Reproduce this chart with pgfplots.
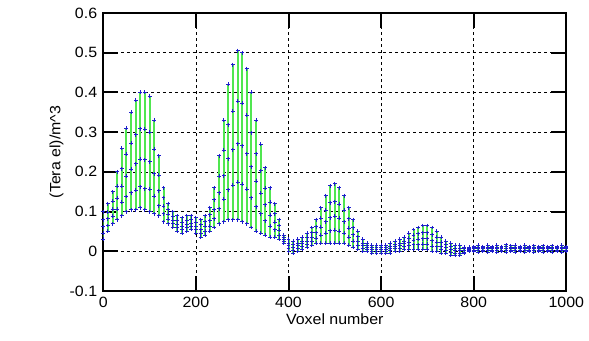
\documentclass[border=0pt]{standalone}
\usepackage{fontspec}
\setmainfont{Liberation Sans}[FakeStretch=1.07]
\usepackage{pgfplots}
\usepackage{pgfplotstable}
\pgfplotsset{compat=1.18}
\definecolor{lgreen}{RGB}{80,230,80}
\definecolor{mblue}{RGB}{30,30,205}
\pgfplotstableread{
x y1 y2 y3 y4 y5
0 0.100 0.079 0.062 0.045 0.030
10 0.120 0.099 0.082 0.065 0.050
20 0.150 0.126 0.106 0.088 0.070
30 0.200 0.164 0.134 0.106 0.080
40 0.260 0.208 0.164 0.124 0.090
50 0.310 0.244 0.189 0.138 0.100
60 0.350 0.272 0.207 0.147 0.105
70 0.380 0.293 0.220 0.154 0.105
80 0.400 0.309 0.232 0.162 0.110
90 0.400 0.307 0.230 0.158 0.105
100 0.390 0.300 0.225 0.156 0.100
110 0.330 0.257 0.195 0.139 0.095
120 0.240 0.192 0.152 0.115 0.090
130 0.160 0.135 0.113 0.094 0.075
140 0.120 0.105 0.093 0.081 0.070
150 0.100 0.088 0.078 0.069 0.060
160 0.090 0.078 0.068 0.059 0.050
170 0.085 0.073 0.063 0.054 0.045
180 0.090 0.078 0.068 0.059 0.050
190 0.090 0.080 0.071 0.063 0.055
200 0.085 0.073 0.063 0.054 0.045
210 0.080 0.067 0.055 0.045 0.035
220 0.090 0.075 0.063 0.051 0.040
230 0.110 0.092 0.077 0.063 0.050
240 0.160 0.130 0.105 0.082 0.060
250 0.240 0.189 0.147 0.107 0.070
260 0.330 0.254 0.190 0.131 0.075
270 0.420 0.318 0.233 0.155 0.080
280 0.470 0.353 0.256 0.166 0.080
290 0.505 0.378 0.271 0.174 0.080
300 0.500 0.373 0.266 0.169 0.075
310 0.460 0.343 0.246 0.156 0.070
320 0.400 0.298 0.213 0.135 0.060
330 0.330 0.246 0.176 0.112 0.050
340 0.270 0.203 0.146 0.095 0.045
350 0.210 0.159 0.117 0.077 0.040
360 0.160 0.123 0.091 0.063 0.035
370 0.120 0.095 0.073 0.054 0.035
380 0.080 0.065 0.053 0.041 0.030
390 0.040 0.034 0.029 0.024 0.020
400 0.030 0.021 0.014 0.007 0.000
410 0.025 0.016 0.009 0.002 -0.005
420 0.030 0.021 0.014 0.007 0.000
430 0.035 0.026 0.019 0.012 0.005
440 0.045 0.035 0.026 0.018 0.010
450 0.060 0.047 0.035 0.025 0.015
460 0.080 0.062 0.047 0.033 0.020
470 0.110 0.083 0.061 0.040 0.020
480 0.140 0.104 0.074 0.046 0.020
490 0.165 0.122 0.085 0.052 0.020
500 0.170 0.125 0.088 0.053 0.020
510 0.160 0.118 0.083 0.051 0.020
520 0.140 0.104 0.074 0.046 0.020
530 0.110 0.082 0.058 0.036 0.015
540 0.080 0.059 0.042 0.025 0.010
550 0.050 0.037 0.025 0.015 0.005
560 0.030 0.021 0.014 0.007 0.000
570 0.020 0.014 0.009 0.004 0.000
580 0.015 0.009 0.004 -0.001 -0.005
590 0.015 0.009 0.004 -0.001 -0.005
600 0.015 0.009 0.004 -0.001 -0.005
610 0.015 0.009 0.004 -0.001 -0.005
620 0.020 0.013 0.006 0.001 -0.005
630 0.025 0.018 0.011 0.006 0.000
640 0.030 0.021 0.014 0.007 0.000
650 0.035 0.026 0.019 0.012 0.005
660 0.045 0.033 0.023 0.014 0.005
670 0.055 0.040 0.028 0.016 0.005
680 0.060 0.044 0.030 0.017 0.005
690 0.065 0.047 0.032 0.018 0.005
700 0.065 0.047 0.032 0.018 0.005
710 0.060 0.042 0.027 0.013 0.000
720 0.050 0.035 0.023 0.011 0.000
730 0.035 0.023 0.013 0.004 -0.005
740 0.025 0.016 0.009 0.002 -0.005
750 0.020 0.011 0.004 -0.003 -0.010
760 0.015 0.008 0.001 -0.005 -0.010
770 0.015 0.008 0.001 -0.005 -0.010
780 0.010 0.006 0.002 -0.002 -0.005
790 0.010 0.007 0.005 0.002 0.000
800 0.012 0.009 0.006 0.003 0.000
810 0.015 0.010 0.006 0.002 -0.002
820 0.012 0.009 0.006 0.003 0.000
830 0.015 0.010 0.006 0.002 -0.002
840 0.012 0.009 0.006 0.003 0.000
850 0.015 0.010 0.006 0.002 -0.002
860 0.012 0.009 0.006 0.003 0.000
870 0.016 0.011 0.007 0.003 -0.002
880 0.014 0.010 0.006 0.003 0.000
890 0.015 0.010 0.006 0.002 -0.002
900 0.012 0.009 0.006 0.003 0.000
910 0.015 0.010 0.006 0.002 -0.002
920 0.012 0.009 0.006 0.003 0.000
930 0.014 0.010 0.006 0.002 -0.002
940 0.012 0.009 0.006 0.003 0.000
950 0.014 0.010 0.006 0.002 -0.002
960 0.012 0.009 0.006 0.003 0.000
970 0.014 0.010 0.006 0.002 -0.002
980 0.012 0.009 0.006 0.003 0.000
990 0.015 0.010 0.006 0.002 -0.002
1000 0.012 0.009 0.006 0.003 0.000
}\vox
\begin{document}
\fontsize{15bp}{18bp}\selectfont
\begin{tikzpicture}
\begin{axis}[
  name=ax,
  scale only axis,
  width=466bp, height=280bp,
  xmin=0, xmax=1000, ymin=-0.1, ymax=0.6,
  xtick={0,200,...,1000},
  ytick={-0.1,0,0.1,0.2,0.3,0.4,0.5,0.6},
  yticklabels={-0.1,0,0.1,0.2,0.3,0.4,0.5,0.6},
  xticklabels={0,200,400,600,800,1000},
  axis line style={line width=2bp},
  tick style={line width=2bp, black},
  tick align=inside,
  major tick length=15bp,
  grid=major,
  major grid style={black, line width=0.6pt, dash pattern=on 3bp off 3bp},
  ticklabel style={font=\fontsize{15bp}{18bp}\selectfont},
  label style={font=\fontsize{15bp}{18bp}\selectfont},
  xlabel={Voxel number},
  ylabel={(Tera el)/m\textasciicircum3},
  xlabel style={yshift=4bp},
  ylabel style={yshift=-4bp},
  xticklabel style={yshift=-1bp},
  yticklabel style={xshift=-1bp},
  /pgf/number format/assume math mode=true,
]
\addplot[draw=none, forget plot, error bars/.cd, y dir=plus, y explicit,
  error mark=none, error bar style={lgreen, line width=2bp}]
  table[x=x, y=y5, y error expr=\thisrow{y1}-\thisrow{y5}] {\vox};
\foreach \c in {y1,y2,y3,y4,y5}{
  \addplot[only marks, mark=+, mark size=2pt, mblue, line width=1pt]
    table[x=x, y=\c] {\vox};
}
\end{axis}
\path (ax.south west) ++(-104bp,-50bp) coordinate (bl);
\path (ax.north east) ++(19bp,13bp) coordinate (tr);
\path (bl) rectangle (tr);
\end{tikzpicture}
\end{document}
